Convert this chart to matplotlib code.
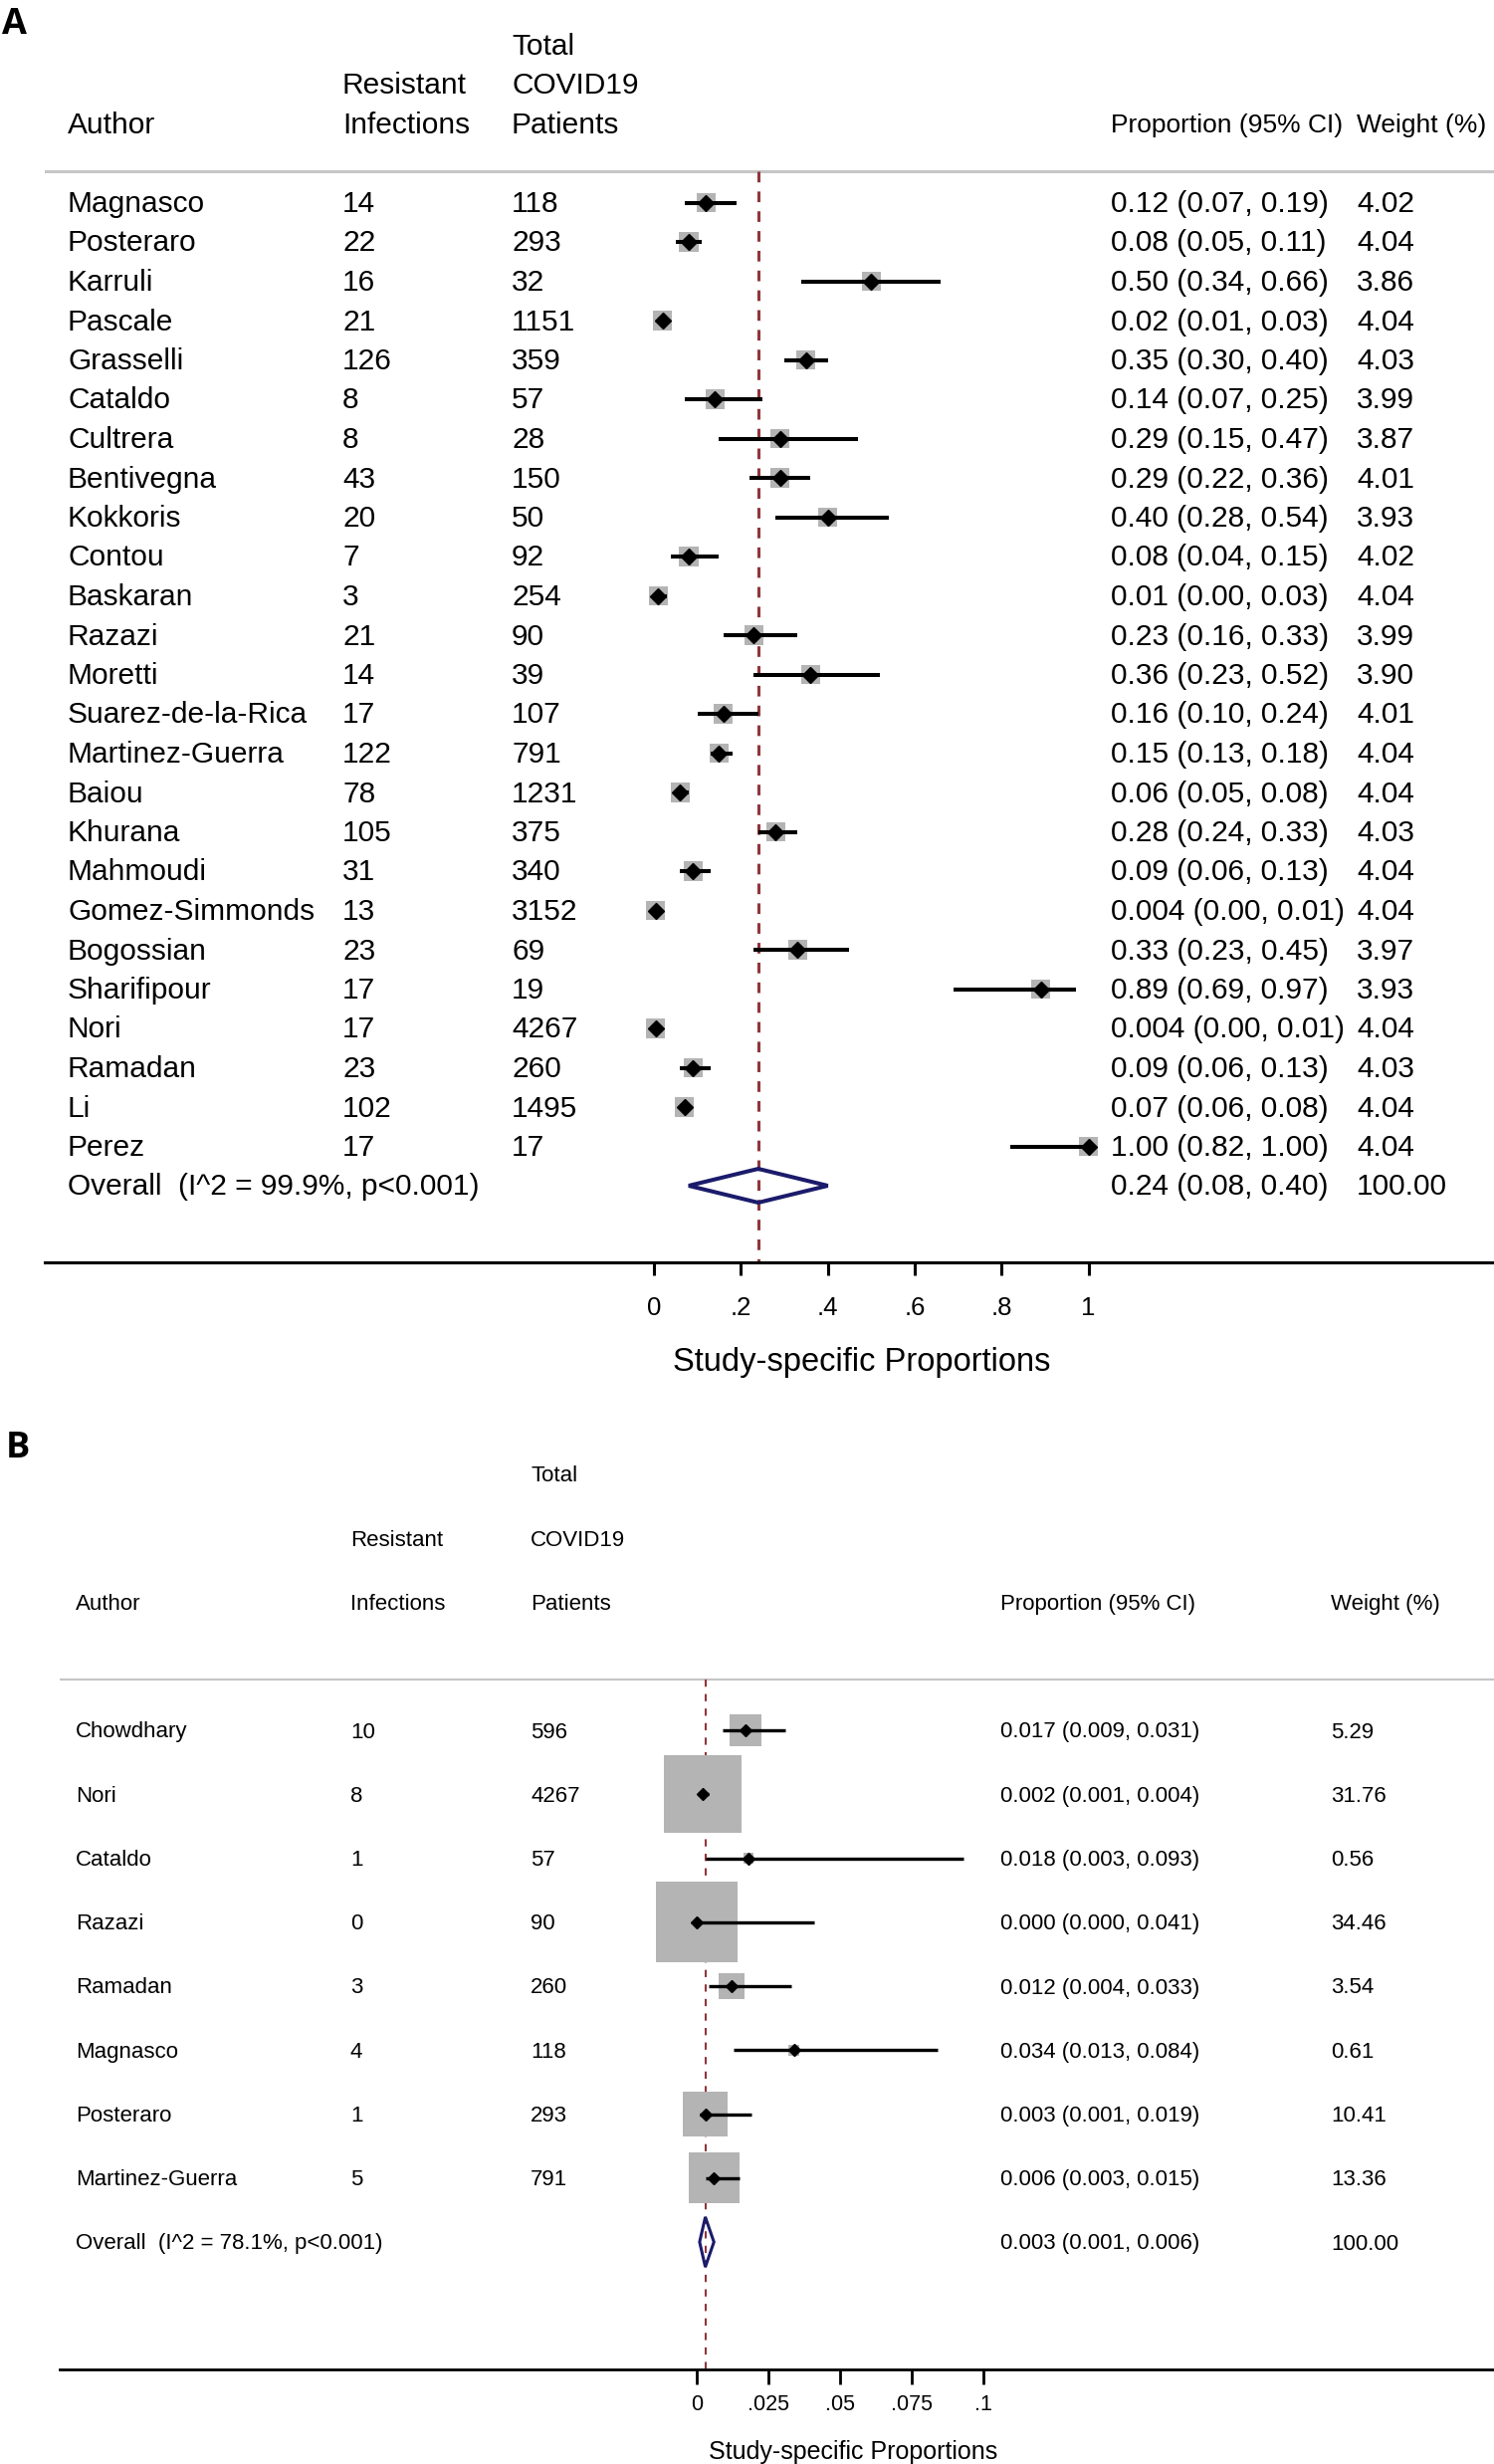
import matplotlib
matplotlib.use("Agg")
from matplotlib import pyplot as plt
from matplotlib import transforms
from matplotlib.patches import Polygon

plt.rcParams['font.family'] = ['Liberation Sans', 'DejaVu Sans']

# ---------------- panel A data ----------------
authorsA = ["Magnasco", "Posteraro", "Karruli", "Pascale", "Grasselli", "Cataldo",
            "Cultrera", "Bentivegna", "Kokkoris", "Contou", "Baskaran", "Razazi",
            "Moretti", "Suarez-de-la-Rica", "Martinez-Guerra", "Baiou", "Khurana",
            "Mahmoudi", "Gomez-Simmonds", "Bogossian", "Sharifipour", "Nori",
            "Ramadan", "Li", "Perez"]
infectA = [14, 22, 16, 21, 126, 8, 8, 43, 20, 7, 3, 21, 14, 17, 122, 78, 105, 31,
           13, 23, 17, 17, 23, 102, 17]
totalA = [118, 293, 32, 1151, 359, 57, 28, 150, 50, 92, 254, 90, 39, 107, 791,
          1231, 375, 340, 3152, 69, 19, 4267, 260, 1495, 17]
propA = [0.12, 0.08, 0.50, 0.02, 0.35, 0.14, 0.29, 0.29, 0.40, 0.08, 0.01, 0.23,
         0.36, 0.16, 0.15, 0.06, 0.28, 0.09, 0.004, 0.33, 0.89, 0.004, 0.09, 0.07, 1.00]
lowA = [0.07, 0.05, 0.34, 0.01, 0.30, 0.07, 0.15, 0.22, 0.28, 0.04, 0.00, 0.16,
        0.23, 0.10, 0.13, 0.05, 0.24, 0.06, 0.00, 0.23, 0.69, 0.00, 0.06, 0.06, 0.82]
highA = [0.19, 0.11, 0.66, 0.03, 0.40, 0.25, 0.47, 0.36, 0.54, 0.15, 0.03, 0.33,
         0.52, 0.24, 0.18, 0.08, 0.33, 0.13, 0.01, 0.45, 0.97, 0.01, 0.13, 0.08, 1.00]
weightA = [4.02, 4.04, 3.86, 4.04, 4.03, 3.99, 3.87, 4.01, 3.93, 4.02, 4.04, 3.99,
           3.90, 4.01, 4.04, 4.04, 4.03, 4.04, 4.04, 3.97, 3.93, 4.04, 4.03, 4.04, 4.04]
overallA = (0.24, 0.08, 0.40)
i2A = "99.9%"
ticksA = [0, 0.2, 0.4, 0.6, 0.8, 1.0]
tickLabelsA = ["0", ".2", ".4", ".6", ".8", "1"]

# ---------------- panel B data ----------------
authorsB = ["Chowdhary", "Nori", "Cataldo", "Razazi", "Ramadan", "Magnasco",
            "Posteraro", "Martinez-Guerra"]
infectB = [10, 8, 1, 0, 3, 4, 1, 5]
totalB = [596, 4267, 57, 90, 260, 118, 293, 791]
propB = [0.017, 0.002, 0.018, 0.000, 0.012, 0.034, 0.003, 0.006]
lowB = [0.009, 0.001, 0.003, 0.000, 0.004, 0.013, 0.001, 0.003]
highB = [0.031, 0.004, 0.093, 0.041, 0.033, 0.084, 0.019, 0.015]
weightB = [5.29, 31.76, 0.56, 34.46, 3.54, 0.61, 10.41, 13.36]
overallB = (0.003, 0.001, 0.006)
i2B = "78.1%"
ticksB = [0, 0.025, 0.05, 0.075, 0.1]
tickLabelsB = ["0", ".025", ".05", ".075", ".1"]

W, H = 1501, 2475
MAROON = '#90353b'
NAVY = '#1b1b6b'
GREY = '#b4b4b4'

fig = plt.figure(figsize=(W / 100, H / 100), dpi=100)


def fmtProp(v, dec):
    if dec == 2 and v < 0.01 and v > 0:
        return "%.3f" % v
    return ("%." + str(dec) + "f") % v


def drawPanel(box, xpix, ypix, cols, data, st):
    # box = (left, top, bottom) in pixels ; xpix = (pixel of 0, pixels per unit)
    # ypix = (pixel of row 0, pixels per row)
    left, top, bottom = box
    ax = fig.add_axes([left / W, 1 - bottom / H, (W - left) / W, (bottom - top) / H])
    ax.set_xlim((left - xpix[0]) / xpix[1], (W - xpix[0]) / xpix[1])
    ax.set_ylim((bottom - ypix[0]) / ypix[1], (top - ypix[0]) / ypix[1])
    for s in ['top', 'left', 'right']:
        ax.spines[s].set_visible(False)
    ax.spines['bottom'].set_linewidth(st['spine'])
    ax.set_yticks([])
    ax.set_xticks(data['ticks'])
    ax.set_xticklabels(data['tickLabels'])
    ax.tick_params(axis='x', direction='out', length=st['tickLen'], width=st['spine'],
                   labelsize=st['tickSize'], pad=st['tickPad'])
    ax.patch.set_alpha(0)

    tr = transforms.blended_transform_factory(fig.transFigure, ax.transData)
    fs = st['font']
    hs = st['headFont']
    off = st['textOff'] / ypix[1]
    cA, cI, cT, cP, cW = [c / W for c in cols]

    # header
    ax.text(cT, -4 + off, "Total", transform=tr, fontsize=fs, va='center')
    ax.text(cI, -3 + off, "Resistant", transform=tr, fontsize=fs, va='center')
    ax.text(cT, -3 + off, "COVID19", transform=tr, fontsize=fs, va='center')
    for c, t in [(cA, "Author"), (cI, "Infections"), (cT, "Patients")]:
        ax.text(c, -2 + off, t, transform=tr, fontsize=fs, va='center')
    for c, t in [(cP, "Proportion (95% CI)"), (cW, "Weight (%)")]:
        ax.text(c, -2 + off, t, transform=tr, fontsize=hs, va='center')
    ax.axhline(-0.8, color='#c6c6c6', lw=st['hline'], zorder=1)

    n = len(data['authors'])
    est, lo, hi = data['overall']
    ax.plot([est, est], [-0.8, ax.get_ylim()[0]], color=MAROON, lw=st['dash'],
            dashes=st['dashes'], zorder=2, clip_on=False)

    d = st['dec']
    for i in range(n):
        y = i + off
        ax.text(cA, y, data['authors'][i], transform=tr, fontsize=fs, va='center')
        ax.text(cI, y, str(data['infect'][i]), transform=tr, fontsize=fs, va='center')
        ax.text(cT, y, str(data['total'][i]), transform=tr, fontsize=fs, va='center')
        ax.text(cP, y, "%s (%s, %s)" % (fmtProp(data['prop'][i], d), fmtProp(data['low'][i], d),
                                        fmtProp(data['high'][i], d)),
                transform=tr, fontsize=fs, va='center')
        ax.text(cW, y, "%.2f" % data['weight'][i], transform=tr, fontsize=fs, va='center')

    rows = list(range(n))
    ax.scatter(data['prop'], rows, s=[st['boxScale'] * w for w in data['weight']],
               marker='s', color=GREY, linewidths=0, zorder=3)
    ax.hlines(rows, data['low'], data['high'], color='black', lw=st['ci'], zorder=4)
    ax.plot(data['prop'], rows, 'D', color='black', markersize=st['dia'], zorder=5,
            linestyle='none')

    # overall
    ax.text(cA, n + off, "Overall  (I^2 = %s, p<0.001)" % data['i2'], transform=tr,
            fontsize=fs, va='center')
    ax.text(cP, n + off, "%s (%s, %s)" % (fmtProp(est, d), fmtProp(lo, d), fmtProp(hi, d)),
            transform=tr, fontsize=fs, va='center')
    ax.text(cW, n + off, "100.00", transform=tr, fontsize=fs, va='center')
    hh = st['diaH']
    ax.add_patch(Polygon([[lo, n], [est, n - hh], [hi, n], [est, n + hh]], closed=True,
                         fill=False, edgecolor=NAVY, lw=st['ovLw'], joinstyle='miter', zorder=6))

    ax.set_xlabel("Study-specific Proportions", fontsize=st['labSize'])
    ax.xaxis.set_label_coords(st['labX'], st['labY'], transform=ax.transData)
    ax.xaxis.label.set_va('center')
    return ax


dataA = dict(authors=authorsA, infect=infectA, total=totalA, prop=propA, low=lowA,
             high=highA, weight=weightA, overall=overallA, i2=i2A, ticks=ticksA,
             tickLabels=tickLabelsA)
styleA = dict(spine=2.2, tickLen=9.4, tickSize=18.5, tickPad=15, font=21.5, headFont=19,
              textOff=1.5, hline=2.2, dash=2.2, dashes=(3.5, 3), dec=2, boxScale=47.8,
              ci=2.9, dia=8.0, diaH=0.43, ovLw=2.9, labSize=23.5, labX=0.479,
              labY=(1368 - 203.5) / 39.5)
drawPanel((45, 0, 1268), (657, 436.6), (203.5, 39.5), (68, 344, 514, 1116, 1363),
          dataA, styleA)

dataB = dict(authors=authorsB, infect=infectB, total=totalB, prop=propB, low=lowB,
             high=highB, weight=weightB, overall=overallB, i2=i2B, ticks=ticksB,
             tickLabels=tickLabelsB)
styleB = dict(spine=2.0, tickLen=10.8, tickSize=15.5, tickPad=7, font=16, headFont=16,
              textOff=2.0, hline=1.6, dash=1.5, dashes=(3.5, 3.5), dec=3, boxScale=99,
              ci=2.4, dia=6.4, diaH=0.39, ovLw=2.2, labSize=18, labX=0.0547,
              labY=(2463 - 1738) / 64.25)
drawPanel((60, 1440, 2380), (700, 2877), (1738, 64.25), (76, 352, 533, 1005, 1337),
          dataB, styleB)

fig.text(2 / W, 1 - 25 / H, "A", fontsize=26, fontweight='bold', family='Open Sans',
         va='center', ha='left')
fig.text(6 / W, 1 - 1455 / H, "B", fontsize=26, fontweight='bold', family='Open Sans',
         va='center', ha='left')

fig.savefig("out.png", dpi=100)
